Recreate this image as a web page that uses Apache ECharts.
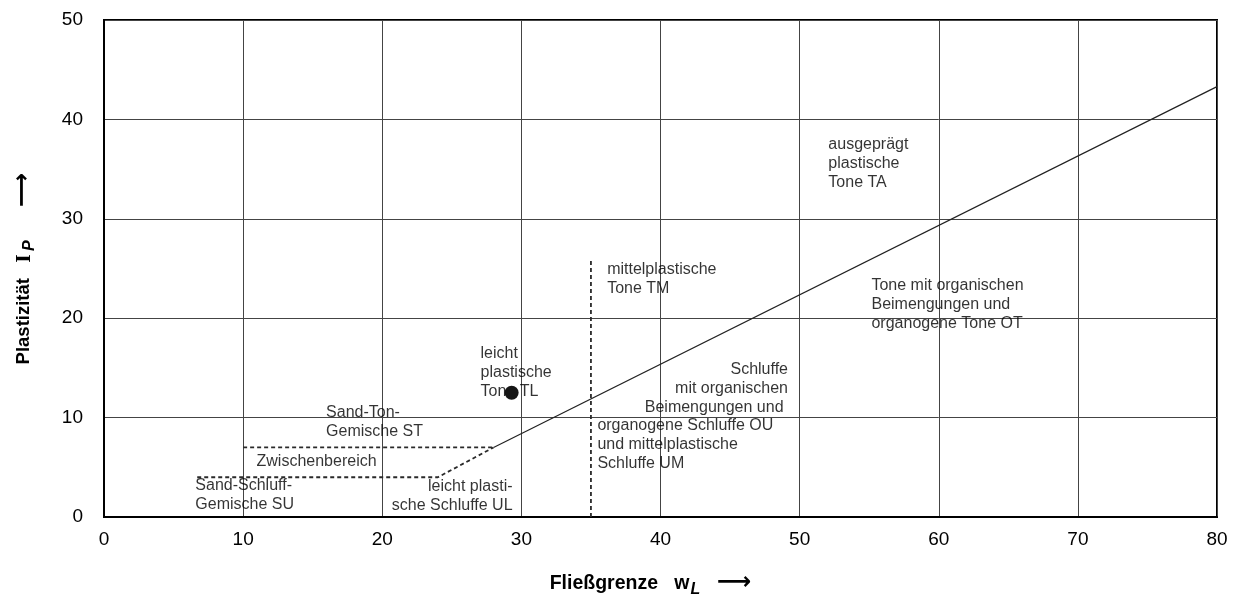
<!DOCTYPE html>
<html>
<head>
<meta charset="utf-8">
<script src="https://cdn.jsdelivr.net/npm/echarts@6/dist/echarts.min.js"></script>
<style>html,body{margin:0;padding:0;background:#fff}#c{width:1241px;height:601px}</style>
</head>
<body>
<div id="c"></div>
<script>
// ---- data ----
const xTicks = [0, 10, 20, 30, 40, 50, 60, 70, 80];
const yTicks = [0, 10, 20, 30, 40, 50];
const aLine = [[28, 7], [80, 43.3]];
const upperDashed = [[10, 7], [28, 7]];
const lowerDashed = [[6.7, 4], [24, 4], [28, 7]];
const verticalDashed = [[35, 0], [35, 26]];
const samplePoint = [[29.3, 12.5]];
const zoneLabels = [
  { at: [27.1, 17.3], align: 'left', text: 'leicht\nplastische\nTone TL' },
  { at: [16.0, 11.4], align: 'left', text: 'Sand-Ton-\nGemische ST' },
  { at: [11.0, 6.5], align: 'left', text: 'Zwischenbereich' },
  { at: [6.6, 4.1], align: 'left', text: 'Sand-Schluff-\nGemische SU' },
  { at: [29.4, 4.0], align: 'right', text: 'leicht plasti-\nsche Schluffe UL' },
  { at: [36.2, 25.8], align: 'left', text: 'mittelplastische\nTone TM' },
  { at: [49.2, 15.7], align: 'right', text: 'Schluffe\nmit organischen\nBeimengungen und ' },
  { at: [35.5, 10.1], align: 'left', text: 'organogene Schluffe OU\nund mittelplastische\nSchluffe UM' },
  { at: [52.1, 38.4], align: 'left', text: 'ausgeprägt\nplastische\nTone TA' },
  { at: [55.2, 24.2], align: 'left', text: 'Tone mit organischen\nBeimengungen und\norganogene Tone OT' }
];

const FONT = '"Liberation Sans", Arial, sans-serif';
const chart = echarts.init(document.getElementById('c'), null, { renderer: 'canvas' });

const dashStyle = { color: '#2a2a2a', width: 1.8, type: [4, 3] };

chart.setOption({
  animation: false,
  backgroundColor: '#fff',
  grid: { left: 104, right: 24, top: 20, bottom: 84, outerBoundsMode: 'none', containLabel: false,
          show: true, borderColor: '#000', borderWidth: 2, backgroundColor: 'transparent' },
  xAxis: {
    type: 'value', min: xTicks[0], max: xTicks[xTicks.length - 1], interval: 10,
    axisLine: { show: true, lineStyle: { color: '#000', width: 2 } },
    axisTick: { show: false },
    splitLine: { show: true, lineStyle: { color: '#444', width: 1 } },
    axisLabel: { color: '#000', fontSize: 19, fontFamily: FONT, margin: 13 },
    name: '{a|Fließgrenze   w}{s|L}{r|  ⟶}',
    nameLocation: 'middle', nameGap: 52, nameMoveOverlap: false,
    nameTextStyle: {
      padding: [0, 20, 0, 0],
      rich: {
        a: { fontSize: 19.5, fontWeight: 'bold', fontFamily: FONT, color: '#000', lineHeight: 30 },
        s: { fontSize: 16, fontWeight: 'bold', fontStyle: 'italic', fontFamily: FONT, color: '#000', padding: [12, 0, 0, 1] },
        r: { fontSize: 24, fontWeight: 'bold', fontFamily: '"DejaVu Sans", sans-serif', color: '#000', padding: [0, 0, 3, 0] }
      }
    }
  },
  yAxis: {
    type: 'value', min: yTicks[0], max: yTicks[yTicks.length - 1], interval: 10,
    axisLine: { show: true, lineStyle: { color: '#000', width: 2 } },
    axisTick: { show: false },
    splitLine: { show: true, lineStyle: { color: '#444', width: 1 } },
    axisLabel: { color: '#000', fontSize: 19, fontFamily: FONT, margin: 21 },
    name: '{a|Plastizität   }{i|I}{s|P}{r|    ⟶}',
    nameLocation: 'middle', nameGap: 65, nameMoveOverlap: false,
    nameTextStyle: {
      padding: [0, 0, 0, 0],
      rich: {
        a: { fontSize: 18.5, fontWeight: 'bold', fontFamily: FONT, color: '#000', lineHeight: 30 },
        i: { fontSize: 22, fontWeight: 'bold', fontFamily: '"Liberation Serif", "DejaVu Serif", serif', color: '#000' },
        s: { fontSize: 16, fontWeight: 'bold', fontStyle: 'italic', fontFamily: FONT, color: '#000', padding: [12, 0, 0, 3] },
        r: { fontSize: 24, fontWeight: 'bold', fontFamily: '"DejaVu Sans", sans-serif', color: '#000', padding: [0, 0, 3, 0] }
      }
    }
  },
  series: [
    { type: 'line', data: aLine, symbol: 'none', lineStyle: { color: '#222', width: 1.2 }, z: 3 },
    { type: 'line', data: upperDashed, symbol: 'none', lineStyle: dashStyle, z: 3 },
    { type: 'line', data: lowerDashed, symbol: 'none', lineStyle: dashStyle, z: 3 },
    { type: 'line', data: verticalDashed, symbol: 'none', lineStyle: dashStyle, z: 3 },
    { type: 'scatter', data: samplePoint, symbol: 'circle', symbolSize: 14, itemStyle: { color: '#151515', opacity: 1 }, z: 6 },
    {
      type: 'scatter', z: 5, symbolSize: 1, itemStyle: { color: 'rgba(0,0,0,0)' }, silent: true,
      data: zoneLabels.map(l => ({
        value: l.at,
        label: {
          show: true, formatter: l.text, position: [0, 0], align: l.align, verticalAlign: 'top',
          color: '#000', fontSize: 16, lineHeight: 19, fontFamily: FONT
        }
      }))
    }
  ]
});
</script>
</body>
</html>
